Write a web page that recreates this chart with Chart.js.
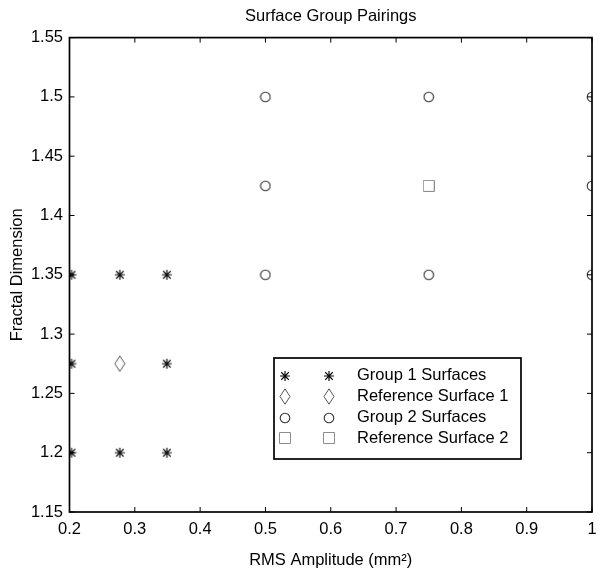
<!DOCTYPE html>
<html><head><meta charset="utf-8">
<script src="https://cdn.jsdelivr.net/npm/chart.js@4.4.0/dist/chart.umd.min.js"></script>
<style>html,body{margin:0;padding:0;background:#fff;}canvas{display:block;}</style>
</head><body>
<canvas id="c" width="598" height="571"></canvas>
<script>
// ---- data ----
const titleText = 'Surface Group Pairings';
const xAxisTitle = 'RMS Amplitude (mm\u00B2)';
const yAxisTitle = 'Fractal Dimension';
const xTickValues = [0.2, 0.3, 0.4, 0.5, 0.6, 0.7, 0.8, 0.9, 1.0];
const xTickLabels = ['0.2', '0.3', '0.4', '0.5', '0.6', '0.7', '0.8', '0.9', '1'];
const yTickValues = [1.15, 1.2, 1.25, 1.3, 1.35, 1.4, 1.45, 1.5, 1.55];
const yTickLabels = ['1.15', '1.2', '1.25', '1.3', '1.35', '1.4', '1.45', '1.5', '1.55'];
const seriesNames = ['Group 1 Surfaces', 'Reference Surface 1', 'Group 2 Surfaces', 'Reference Surface 2'];
const group1X = [0.203, 0.277, 0.349, 0.203, 0.349, 0.203, 0.277, 0.349];
const group1Y = [1.35, 1.35, 1.35, 1.275, 1.275, 1.2, 1.2, 1.2];
const ref1X = [0.277];
const ref1Y = [1.275];
const group2X = [0.5, 0.75, 1.0, 0.5, 1.0, 0.5, 0.75, 1.0];
const group2Y = [1.5, 1.5, 1.5, 1.425, 1.425, 1.35, 1.35, 1.35];
const ref2X = [0.75];
const ref2Y = [1.425];

// ---- marker images ----
function makeMarker(kind, color, lw) {
  const c = document.createElement('canvas');
  let w = 12, h = 12;
  if (kind === 'diamond') { w = 12; h = 17; }
  c.width = w; c.height = h;
  const g = c.getContext('2d');
  g.strokeStyle = color; g.lineWidth = lw;
  const cx = w / 2, cy = h / 2;
  g.beginPath();
  if (kind === 'star') {
    const r = 5;
    g.moveTo(cx, cy - r); g.lineTo(cx, cy + r);
    g.moveTo(cx - r, cy); g.lineTo(cx + r, cy);
    const d = r * 0.75;
    g.moveTo(cx - d, cy - d); g.lineTo(cx + d, cy + d);
    g.moveTo(cx - d, cy + d); g.lineTo(cx + d, cy - d);
  } else if (kind === 'diamond') {
    g.moveTo(cx, 0.8); g.lineTo(w - 1, cy); g.lineTo(cx, h - 0.8); g.lineTo(1, cy); g.closePath();
  } else if (kind === 'circle') {
    g.arc(cx, cy, 4.8, 0, Math.PI * 2);
  } else if (kind === 'square') {
    g.rect(0.5, 0.5, w - 1, h - 1);
  }
  g.stroke();
  return c;
}
const markers = [
  makeMarker('star', '#111111', 1.2),
  makeMarker('diamond', '#555555', 1),
  makeMarker('circle', '#333333', 1.1),
  makeMarker('square', '#8c8c8c', 1)
];

function pts(xs, ys) { return xs.map((x, i) => ({ x: x, y: ys[i] })); }

Chart.defaults.font.family = "'Liberation Sans', Arial, Helvetica, sans-serif";
Chart.defaults.font.size = 16.5;
Chart.defaults.color = '#000';

const frame = {
  id: 'frame',
  afterDatasetsDraw(chart) {
    const ctx = chart.ctx, a = chart.chartArea;
    const xs = chart.scales.x, ys = chart.scales.y;
    ctx.save();
    ctx.strokeStyle = '#000';
    ctx.lineWidth = 1;
    ctx.beginPath();
    xs.ticks.forEach(t => {
      const px = xs.getPixelForValue(t.value);
      ctx.moveTo(px, a.bottom); ctx.lineTo(px, a.bottom - 5);
      ctx.moveTo(px, a.top); ctx.lineTo(px, a.top + 5);
    });
    ys.ticks.forEach(t => {
      const py = ys.getPixelForValue(t.value);
      ctx.moveTo(a.left, py); ctx.lineTo(a.left + 5, py);
      ctx.moveTo(a.right, py); ctx.lineTo(a.right - 5, py);
    });
    ctx.stroke();
    ctx.lineWidth = 1.7;
    ctx.strokeRect(a.left, a.top, a.right - a.left, a.bottom - a.top);

    // legend
    const lx = 274, ly = 358, lw = 247, lh = 101;
    ctx.fillStyle = '#fff';
    ctx.fillRect(lx, ly, lw, lh);
    ctx.lineWidth = 1.7;
    ctx.strokeRect(lx, ly, lw, lh);
    ctx.font = "16.5px 'Liberation Sans', Arial, sans-serif";
    ctx.fillStyle = '#000';
    ctx.textBaseline = 'middle';
    ctx.textAlign = 'left';
    chart.data.datasets.forEach((ds, i) => {
      const y = 375.7 + i * 20.9;
      const m = ds.pointStyle;
      [285, 329.3].forEach(mx => ctx.drawImage(m, Math.round(mx - m.width / 2), Math.round(y - m.height / 2)));
      ctx.fillText(ds.label, 357, y);
    });
    ctx.restore();
  }
};

new Chart(document.getElementById('c'), {
  type: 'scatter',
  data: {
    datasets: [
      { label: seriesNames[0], data: pts(group1X, group1Y), pointStyle: markers[0] },
      { label: seriesNames[1], data: pts(ref1X, ref1Y), pointStyle: markers[1] },
      { label: seriesNames[2], data: pts(group2X, group2Y), pointStyle: markers[2] },
      { label: seriesNames[3], data: pts(ref2X, ref2Y), pointStyle: markers[3] }
    ].map(d => Object.assign(d, { showLine: false, pointRadius: 5, pointHoverRadius: 5, clip: 0 }))
  },
  options: {
    responsive: false,
    animation: false,
    events: [],
    layout: { padding: { left: 0, right: 2, top: 0, bottom: 0 } },
    plugins: {
      legend: { display: false },
      tooltip: { enabled: false },
      title: {
        display: true, text: titleText, fullSize: false, color: '#000',
        font: { size: 16.5, weight: 'normal' },
        padding: { top: 6.4, bottom: 11.4 }
      }
    },
    scales: {
      x: {
        type: 'linear', min: 0.2, max: 1.0,
        afterBuildTicks: s => { s.ticks = xTickValues.map(v => ({ value: v })); },
        ticks: { callback: (v, i) => xTickLabels[i], padding: 7.1, maxRotation: 0, autoSkip: false, color: '#000' },
        grid: { display: false, drawTicks: false },
        border: { display: false },
        title: { display: true, text: xAxisTitle, color: '#000', padding: { top: 0, bottom: 1 } },
        afterFit: s => { s.height = 59; s.paddingLeft = 0; s.paddingRight = 0; }
      },
      y: {
        type: 'linear', min: 1.15, max: 1.55,
        afterBuildTicks: s => { s.ticks = yTickValues.map(v => ({ value: v })); },
        ticks: { callback: (v, i) => yTickLabels[i], padding: 6.5, autoSkip: false, color: '#000' },
        grid: { display: false, drawTicks: false },
        border: { display: false },
        title: { display: true, text: yAxisTitle, color: '#000', padding: { top: 8, bottom: 0 } },
        afterFit: s => { s.width = 69.5; s.paddingTop = 0; s.paddingBottom = 0; }
      }
    }
  },
  plugins: [frame]
});
</script>
</body></html>
